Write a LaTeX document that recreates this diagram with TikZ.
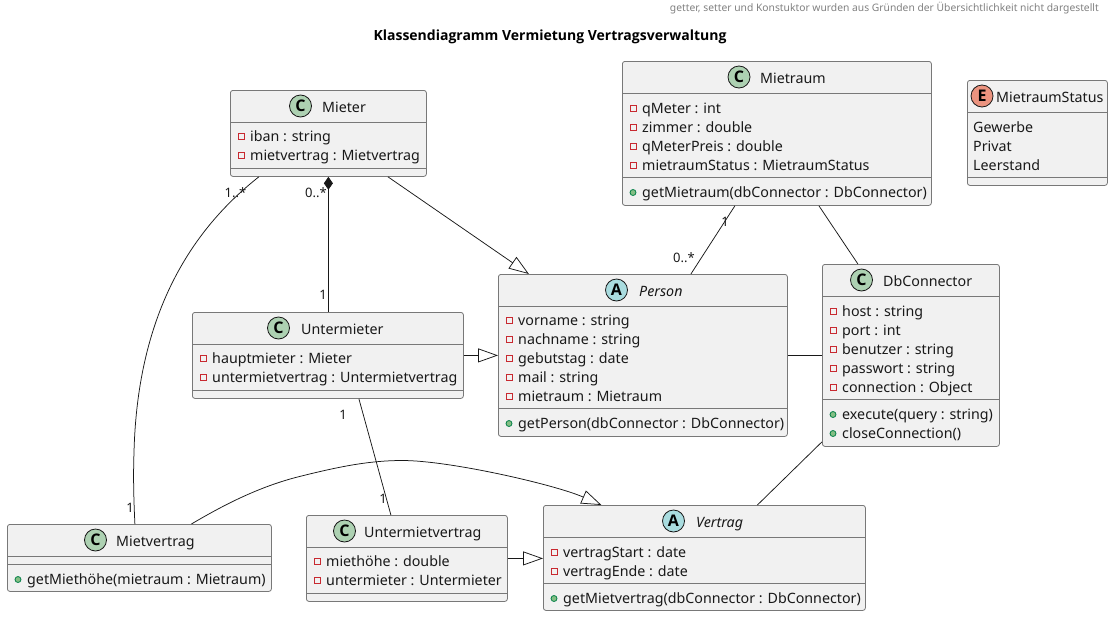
\documentclass[tikz,border=0pt]{standalone}
\usepackage{fontspec}
\setmainfont{Noto Sans}
\newfontfamily\boldf{Open Sans}[UprightFont=* Bold]
\usetikzlibrary{arrows.meta}
\definecolor{ln}{HTML}{181818}
\definecolor{bx}{HTML}{F1F1F1}
\definecolor{cc}{HTML}{ADD1B2}
\definecolor{ca}{HTML}{A9DCDF}
\definecolor{ce}{HTML}{EB937F}
\definecolor{pr}{HTML}{C82930}
\definecolor{pu}{HTML}{038048}
\definecolor{pf}{HTML}{84BE84}
\definecolor{edge}{HTML}{787878}
\newcount\tcnt
\newcommand{\nx}{\global\advance\tcnt by 1 }
\tikzset{
  x=1pt,y=-1pt,
  umlbox/.style={draw=edge,line width=.8pt,fill=bx,rounded corners=2.5pt,inner sep=0,anchor=north west},
  sep/.style={draw=edge,line width=.8pt},
  conn/.style={draw=ln,line width=.75pt},
  inh/.style={conn,-{Triangle[open,length=20pt,width=14pt,fill=white]}},
  comp/.style={conn,{Diamond[length=13pt,width=9pt,fill=ln]}-},
  txt/.style={anchor=base west,inner sep=0,font=\fontsize{14.25}{16}\selectfont,text=black!90},
  ititle/.style={txt,font=\fontsize{14.25}{16}\selectfont\itshape},
  mult/.style={anchor=base,inner sep=0,font=\fontsize{13}{15}\selectfont,text=black!90},
  spot/.style={circle,draw=ln,line width=.8pt,minimum size=22pt,inner sep=0,font=\fontsize{16}{16}\boldf\selectfont,text=black},
}
% box: name, x1, y1, x2, y2
\newcommand{\umlb}[5]{\node[umlbox,minimum width=\dimexpr#4pt-#2pt\relax,minimum height=\dimexpr#5pt-#3pt\relax] (#1) at (#2,#3) {};}
\newcommand{\sepl}[3]{\draw[sep] (#1,#3) -- (#2,#3);}
% spot: x, y, letter, colour
\newcommand{\spt}[4]{\nx\node[spot,fill=#4] (s\the\tcnt) at (#1,#2) {#3};}
% text: x, centre y, text
\newcommand{\tx}[3]{\nx\node[txt] (t\the\tcnt) at (#1+.5,#2+5) {#3};}
\newcommand{\itx}[3]{\nx\node[ititle] (t\the\tcnt) at (#1+.5,#2+5) {#3};}
% private / public member: box left, centre y, text
\newcommand{\priv}[3]{\draw[pr,line width=.8pt] (#1+8,#2-2) rectangle (#1+14,#2+4);\tx{#1+19.5}{#2+1}{#3}}
\newcommand{\publ}[3]{\draw[pu,fill=pf,line width=.8pt] (#1+11,#2+1) circle (3pt);\tx{#1+19.5}{#2+1}{#3}}
\newcommand{\mul}[3]{\nx\node[mult] (m\the\tcnt) at (#1,#2) {#3};}
\begin{document}
\begin{tikzpicture}
\useasboundingbox (0,0) rectangle (1113,616);
\node[anchor=base east,inner sep=0,text=black!50,font=\fontsize{10.3}{12}\selectfont] (hdr) at (1099,11) {getter, setter und Konstuktor wurden aus Gründen der Übersichtlichkeit nicht dargestellt};
\node[anchor=base,inner sep=0,font=\fontsize{14}{16}\boldf\selectfont] (ttl) at (550,40) {Klassendiagramm Vermietung Vertragsverwaltung};

\begin{scope}[shift={(-.5,-.5)}]
% Mieter
\umlb{mieter}{230.5}{90.5}{426.5}{176.5}
\sepl{230.5}{426.5}{122.5}\sepl{230.5}{426.5}{168.5}
\spt{301}{106.5}{C}{cc}\tx{322}{107.5}{Mieter}
\priv{230.5}{136}{iban : string}
\priv{230.5}{155}{mietvertrag : Mietvertrag}

% Mietraum
\umlb{mietraum}{622.5}{61.5}{931.5}{205.5}
\sepl{622.5}{931.5}{93.5}\sepl{622.5}{931.5}{177.5}
\spt{739.5}{77.5}{C}{cc}\tx{760}{78.5}{Mietraum}
\priv{622.5}{108}{qMeter : int}
\priv{622.5}{127}{zimmer : double}
\priv{622.5}{146}{qMeterPreis : double}
\priv{622.5}{165}{mietraumStatus : MietraumStatus}
\publ{622.5}{192}{getMietraum(dbConnector : DbConnector)}

% MietraumStatus
\umlb{status}{967.5}{80.5}{1107.5}{185.5}
\sepl{967.5}{1107.5}{112.5}\sepl{967.5}{1107.5}{177.5}
\spt{982.5}{96.5}{E}{ce}\tx{996}{97.5}{MietraumStatus}
\tx{973}{128}{Gewerbe}
\tx{973}{147}{Privat}
\tx{973}{166}{Leerstand}

% Person
\umlb{person}{498.5}{274.5}{787.5}{436.5}
\sepl{498.5}{787.5}{306.5}\sepl{498.5}{787.5}{408.5}
\spt{617}{290.5}{A}{ca}\itx{639}{291.5}{Person}
\priv{498.5}{320}{vorname : string}
\priv{498.5}{339}{nachname : string}
\priv{498.5}{358}{gebutstag : date}
\priv{498.5}{377}{mail : string}
\priv{498.5}{396}{mietraum : Mietraum}
\publ{498.5}{423}{getPerson(dbConnector : DbConnector)}

% DbConnector
\umlb{db}{822.5}{264.5}{999.5}{446.5}
\sepl{822.5}{999.5}{296.5}\sepl{822.5}{999.5}{399.5}
\spt{862}{280.5}{C}{cc}\tx{883}{281.5}{DbConnector}
\priv{822.5}{311}{host : string}
\priv{822.5}{330}{port : int}
\priv{822.5}{349}{benutzer : string}
\priv{822.5}{368}{passwort : string}
\priv{822.5}{387}{connection : Object}
\publ{822.5}{414}{execute(query : string)}
\publ{822.5}{433}{closeConnection()}

% Untermieter
\umlb{unter}{192.5}{312.5}{463.5}{398.5}
\sepl{192.5}{463.5}{344.5}\sepl{192.5}{463.5}{390.5}
\spt{279}{328.5}{C}{cc}\tx{301}{329.5}{Untermieter}
\priv{192.5}{358}{hauptmieter : Mieter}
\priv{192.5}{377}{untermietvertrag : Untermietvertrag}

% Mietvertrag
\umlb{mv}{7.5}{524.5}{271.5}{591.5}
\sepl{7.5}{271.5}{556.5}\sepl{7.5}{271.5}{564.5}
\spt{96}{540.5}{C}{cc}\tx{116}{541.5}{Mietvertrag}
\publ{7.5}{579}{getMiethöhe(mietraum : Mietraum)}

% Untermietvertrag
\umlb{umv}{306.5}{515.5}{507.5}{601.5}
\sepl{306.5}{507.5}{547.5}\sepl{306.5}{507.5}{593.5}
\spt{345}{531.5}{C}{cc}\tx{364}{532.5}{Untermietvertrag}
\priv{306.5}{561}{miethöhe : double}
\priv{306.5}{580}{untermieter : Untermieter}

% Vertrag
\umlb{vertrag}{543.5}{505.5}{865.5}{610.5}
\sepl{543.5}{865.5}{537.5}\sepl{543.5}{865.5}{583.5}
\spt{674}{521.5}{A}{ca}\itx{696}{522.5}{Vertrag}
\priv{543.5}{552}{vertragStart : date}
\priv{543.5}{571}{vertragEnde : date}
\publ{543.5}{598}{getMietvertrag(dbConnector : DbConnector)}

% connectors
\draw[comp] (mieter.south) -- (mieter.south |- unter.north);
\draw[inh] ([xshift=59.5pt]mieter.south) -- ([xshift=-114pt]person.north);
\draw[conn] ([xshift=-69.5pt]mieter.south) .. controls (195,228) and (138,310) .. (134.5,453) .. controls (133.5,480) and (134.5,505) .. ([xshift=-4.5pt]mv.north);
\draw[conn] ([xshift=-42pt]mietraum.south) -- ([xshift=48pt]person.north);
\draw[conn] ([xshift=42pt]mietraum.south) -- ([xshift=-53pt]db.north);
\draw[conn] (person.east) -- (db.west |- person.east);
\draw[inh] (unter.east) -- (person.west |- unter.east);
\draw[conn] ([xshift=31pt]unter.south) -- ([xshift=-16pt]umv.north);
\draw[conn] ([yshift=5pt]db.south west) -- ([xshift=53pt]vertrag.north);
\draw[inh] ([xshift=52pt]mv.north) .. controls (225,505) and (260,487) .. (300,477) .. controls (340,467) and (370,461) .. (403,461) .. controls (450,461) and (555,485) .. ([xshift=-103pt]vertrag.north);
\draw[inh] (umv.east) -- (vertrag.west |- umv.east);

% multiplicities
\mul{236}{198}{1..*}
\mul{316.5}{198}{0..*}
\mul{323.5}{300}{1}
\mul{725.5}{227}{1}
\mul{684.5}{263}{0..*}
\mul{343.5}{420}{1}
\mul{383.5}{504}{1}
\mul{130.5}{513}{1}
\end{scope}
\end{tikzpicture}
\end{document}
